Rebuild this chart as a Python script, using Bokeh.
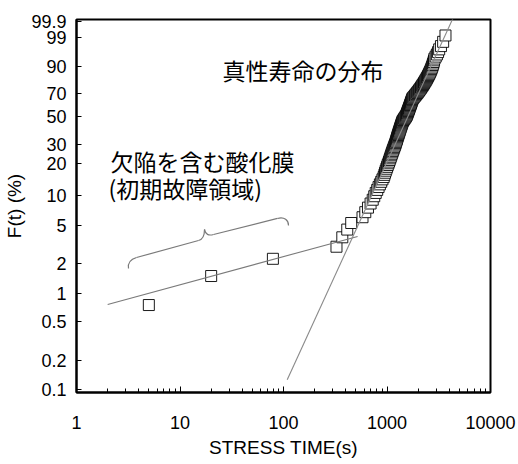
import numpy as np
from bokeh.plotting import figure
from bokeh.models import Range1d, FixedTicker, LogTicker, CustomJSTickFormatter, PrintfTickFormatter, Label
from bokeh.embed import file_html
from bokeh.resources import INLINE

# ---------------- data ----------------
# stress time to breakdown (s) and cumulative failure F(t) (%), rank order
stress_time = [5, 20, 79, 325, 370, 413, 451,
               580, 617, 655, 694, 728, 753, 778, 804, 829, 854, 879, 904,
               928, 943, 957, 972, 987, 1002, 1016, 1032, 1046, 1060, 1073,
               1086, 1098, 1111, 1123, 1136, 1149, 1161, 1174, 1187, 1199,
               1211, 1221, 1231, 1241, 1250, 1260, 1270, 1280, 1290, 1300,
               1310, 1320, 1330, 1339, 1349, 1359, 1369, 1379, 1389, 1399,
               1409, 1424, 1443, 1463, 1482, 1502, 1522, 1541, 1553, 1565,
               1576, 1587, 1599, 1610, 1621, 1633, 1644, 1655, 1667, 1678,
               1689, 1701, 1712, 1723, 1734, 1746, 1757, 1778, 1807, 1836,
               1866, 1895, 1924, 1954, 1983, 2012, 2042, 2071, 2101, 2130,
               2160, 2189, 2218, 2248, 2278, 2307, 2338, 2368, 2399, 2430,
               2461, 2492, 2522, 2553, 2584, 2615, 2646, 2676, 2706, 2735,
               2763, 2792, 2820, 2849, 2877, 2955, 3035, 3113, 3192, 3321,
               3487, 3673]
failure_pct = [0.75, 1.50, 2.26, 3.01, 3.76, 4.51, 5.26,
               6.02, 6.77, 7.52, 8.27, 9.02, 9.77, 10.53, 11.28, 12.03, 12.78, 13.53, 14.29,
               15.04, 15.79, 16.54, 17.29, 18.05, 18.80, 19.55, 20.30, 21.05, 21.80, 22.56,
               23.31, 24.06, 24.81, 25.56, 26.32, 27.07, 27.82, 28.57, 29.32, 30.08,
               30.83, 31.58, 32.33, 33.08, 33.83, 34.59, 35.34, 36.09, 36.84, 37.59,
               38.35, 39.10, 39.85, 40.60, 41.35, 42.11, 42.86, 43.61, 44.36, 45.11,
               45.86, 46.62, 47.37, 48.12, 48.87, 49.62, 50.38, 51.13, 51.88, 52.63,
               53.38, 54.14, 54.89, 55.64, 56.39, 57.14, 57.89, 58.65, 59.40, 60.15,
               60.90, 61.65, 62.41, 63.16, 63.91, 64.66, 65.41, 66.17, 66.92, 67.67,
               68.42, 69.17, 69.92, 70.68, 71.43, 72.18, 72.93, 73.68, 74.44, 75.19,
               75.94, 76.69, 77.44, 78.20, 78.95, 79.70, 80.45, 81.20, 81.95, 82.71,
               83.46, 84.21, 84.96, 85.71, 86.47, 87.22, 87.97, 88.72, 89.47, 90.23,
               90.98, 91.73, 92.48, 93.23, 93.98, 94.74, 95.49, 96.24, 96.99, 97.74,
               98.50, 99.25]

# fitted lines: early (defective oxide) and intrinsic
defect_fit_t = [2, 520]
defect_fit_F = [0.76, 3.84]
intrinsic_fit_t = [108.6, 4360]
intrinsic_fit_F = [0.125, 99.944]

# y tick labels (%)
ytick_pct = [0.1, 0.2, 0.5, 1, 2, 5, 10, 20, 30, 50, 70, 90, 99, 99.9]
ytick_labels = ["0.1", "0.2", "0.5", "1", "2", "5", "10", "20", "30", "50", "70", "90", "99", "99.9"]
y_limits_pct = [0.092, 99.924]
x_limits = [1, 10000]

# brace annotation over the early failures (t, F%)
brace_x0 = [3.18, 3.80, 15.1, 17.25, 21.1, 87.5]
brace_y0 = [1.795, 2.33, 3.49, 4.52, 4.02, 5.85]
brace_x1 = [3.80, 15.1, 17.25, 21.1, 87.5, 111.8]
brace_y1 = [2.33, 3.49, 4.52, 4.02, 5.85, 4.97]
brace_cx0 = [3.11, 3.80, 16.5, 17.6, 21.1, 102.3]
brace_cy0 = [2.07, 2.33, 3.57, 4.02, 4.02, 6.13]
brace_cx1 = [3.32, 15.1, 17.25, 18.9, 87.5, 111.8]
brace_cy1 = [2.23, 3.49, 3.92, 3.88, 5.85, 5.58]

# annotation texts (x in s, y in %)
notes = [(25.7, 87.9, "真性寿命の分布"),
         (2.13, 21.5, "欠陥を含む酸化膜"),
         (2.04, 11.7, "(初期故障領域)")]


def weib(pct):
    f = np.asarray(pct, dtype=float) / 100.0
    return np.log(-np.log(1.0 - f))


JP = "Noto Sans CJK JP"
LAT = "Liberation Sans"

yl = weib(y_limits_pct)
p = figure(width=518, height=464, x_axis_type="log",
           x_range=Range1d(*x_limits), y_range=Range1d(float(yl[0]), float(yl[1])),
           output_backend="svg", toolbar_location=None,
           min_border_left=76, min_border_right=28, min_border_top=19, min_border_bottom=72)
p.grid.visible = False
p.background_fill_color = "white"
p.border_fill_color = "white"
p.outline_line_color = "black"
p.outline_line_width = 2
p.outline_line_alpha = 1

# x axis
xa = p.xaxis[0]
xa.ticker = LogTicker(num_minor_ticks=10)
xa.formatter = PrintfTickFormatter(format="%d")
xa.axis_label = "STRESS TIME(s)"
# y axis
ya = p.yaxis[0]
ytw = [float(v) for v in weib(ytick_pct)]
ya.ticker = FixedTicker(ticks=ytw, minor_ticks=[])
ya.formatter = CustomJSTickFormatter(args=dict(vals=ytw, labs=ytick_labels), code="""
let best = ''; let bd = 1e9;
for (let i = 0; i < vals.length; i++) { const d = Math.abs(vals[i] - tick); if (d < bd) { bd = d; best = labs[i]; } }
return best;
""")
ya.axis_label = "F(t) (%)"

for ax in (xa, ya):
    ax.axis_line_width = 2
    ax.axis_line_color = "black"
    ax.major_tick_out = 0
    ax.minor_tick_out = 0
    ax.major_tick_line_color = "black"
    ax.minor_tick_line_color = "black"
    ax.major_label_text_font = LAT
    ax.major_label_text_font_size = "18px"
    ax.major_label_text_color = "black"
    ax.axis_label_text_font = LAT
    ax.axis_label_text_font_style = "normal"
    ax.axis_label_text_color = "black"
    ax.axis_label_text_font_size = "19px"
xa.major_tick_in = 6
xa.minor_tick_in = 4
xa.major_label_standoff = 23
xa.axis_label_standoff = 5
ya.major_tick_in = 5
ya.major_label_standoff = 10
ya.axis_label_standoff = 3

# data squares
p.scatter(stress_time, weib(failure_pct), marker="square", size=11,
          fill_color="white", line_color="black", line_width=0.9)

# fitted lines
p.line(defect_fit_t, weib(defect_fit_F), line_color="#7a7a7a", line_width=1.1)
p.line(intrinsic_fit_t, weib(intrinsic_fit_F), line_color="#8a8a8a", line_width=1.1)

# brace
p.bezier(x0=brace_x0, y0=weib(brace_y0), x1=brace_x1, y1=weib(brace_y1),
         cx0=brace_cx0, cy0=weib(brace_cy0), cx1=brace_cx1, cy1=weib(brace_cy1),
         line_color="#7a7a7a", line_width=1.2)

# annotations
for (tx, tpct, txt) in notes:
    p.add_layout(Label(x=tx, y=float(weib([tpct])[0]), text=txt, text_font=JP,
                       text_font_size="23px", text_color="black",
                       text_align="left", text_baseline="middle"))

open("out.html", "w").write(file_html(p, INLINE))
